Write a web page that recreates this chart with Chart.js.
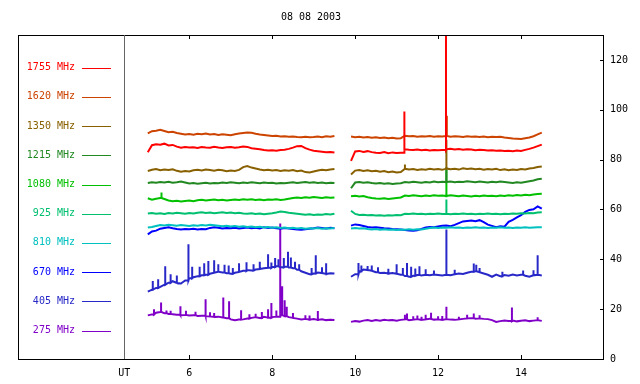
<!DOCTYPE html>
<html>
<head>
<meta charset="utf-8">
<script src="https://cdn.jsdelivr.net/npm/chart.js@4/dist/chart.umd.min.js"></script>
<style>
body { margin: 0; background: #fff; }
</style>
</head>
<body>
<canvas id="spectra" width="640" height="384"></canvas>
<script>

var title = "08 08 2003";
var freqs = ["1755 MHz", "1620 MHz", "1350 MHz", "1215 MHz", "1080 MHz", "925 MHz", "810 MHz", "670 MHz", "405 MHz", "275 MHz"];
var colors = ["#ff0000", "#cc4400", "#886000", "#228822", "#00c000", "#00c070", "#00c0c0", "#0000ff", "#2828c8", "#8000c8"];
var xTicks = [6, 8, 10, 12, 14];
var yTicks = [0, 20, 40, 60, 80, 100, 120];
var utMark = 4.43;

// UT hours, two recording blocks
var hoursA = [5.0,5.1,5.2,5.3,5.4,5.5,5.6,5.7,5.8,5.9,6.0,6.1,6.2,6.3,6.4,6.5,6.6,6.7,6.8,6.9,7.0,7.1,7.2,7.3,7.4,7.5,7.6,7.7,7.8,7.9,8.0,8.1,8.2,8.3,8.4,8.5,8.6,8.7,8.8,8.9,9.0,9.1,9.2,9.3,9.4,9.5];
var hoursB = [9.9,10.0,10.1,10.2,10.3,10.4,10.5,10.6,10.7,10.8,10.9,11.0,11.1,11.2,11.3,11.4,11.5,11.6,11.7,11.8,11.9,12.0,12.1,12.2,12.3,12.4,12.5,12.6,12.7,12.8,12.9,13.0,13.1,13.2,13.3,13.4,13.5,13.6,13.7,13.8,13.9,14.0,14.1,14.2,14.3,14.4,14.5];

var f1755a = [83.0,85.8,86.2,86.0,86.4,85.7,85.9,85.2,84.8,85.1,84.9,85.0,84.7,85.1,84.9,84.8,85.2,84.9,84.7,85.0,85.1,84.8,85.0,85.3,85.1,84.6,84.4,84.2,83.9,83.7,83.8,83.6,83.9,84.0,84.3,84.8,85.4,85.5,84.6,84.0,83.6,83.4,83.2,83.0,83.1,82.9];
var f1755b = [79.5,83.3,83.5,83.1,83.4,83.0,82.8,82.7,83.0,82.6,82.9,82.7,82.8,84.2,84.0,83.9,84.1,83.8,84.0,83.7,83.9,83.8,83.9,84.2,84.4,84.1,84.3,84.0,84.2,84.1,83.8,84.0,83.9,83.7,83.8,83.6,83.7,83.5,83.6,83.4,83.7,83.5,83.9,84.3,84.8,85.4,86.0];
var f1755s = [[11.18, 99.3], [12.19, 135]];

var f1620a = [90.5,91.4,91.6,92.0,91.5,91.0,91.2,90.7,90.4,90.1,90.3,90.0,90.4,90.2,90.5,90.1,90.3,89.9,90.2,90.0,89.8,90.2,90.5,90.7,90.9,90.8,90.4,90.1,89.9,89.7,89.5,89.6,89.3,89.4,89.2,89.3,89.1,89.0,89.2,89.0,89.1,89.3,89.0,89.4,89.2,89.5];
var f1620b = [89.3,89.0,89.2,88.9,89.1,88.8,89.0,88.7,88.9,88.6,88.8,88.5,88.6,89.6,89.4,89.5,89.2,89.4,89.3,89.5,89.2,89.4,89.3,89.5,89.2,89.4,89.3,89.1,89.4,89.2,89.3,89.1,89.3,89.0,89.2,89.1,89.2,88.9,88.7,88.5,88.4,88.3,88.6,88.9,89.4,90.1,90.8];
var f1620s = [[12.21, 97.6]];

var f1350a = [75.4,75.9,76.2,75.7,76.0,75.8,76.1,75.5,75.1,75.4,75.2,75.7,75.9,75.6,76.0,75.8,75.5,75.9,75.7,75.3,75.6,75.4,75.9,77.0,77.4,76.8,76.4,76.0,75.7,75.9,75.6,75.8,75.4,75.7,75.5,75.8,75.3,75.6,75.0,74.8,75.2,75.6,75.9,75.7,76.0,76.2];
var f1350b = [74.0,75.6,75.8,75.4,75.7,75.3,75.5,75.1,75.4,74.9,75.2,74.8,75.0,76.3,76.0,76.2,75.8,76.1,75.9,76.3,76.0,76.2,75.9,76.4,76.1,76.3,76.0,76.5,76.2,76.4,76.1,76.3,75.9,76.2,76.0,76.3,75.8,76.1,75.7,76.0,75.8,76.2,76.0,76.4,76.6,77.0,77.2];
var f1350s = [[11.2, 78], [12.2, 88]];

var f1215a = [70.6,70.9,70.7,71.0,70.8,71.1,70.7,70.9,71.2,70.8,70.4,70.6,70.3,70.5,70.7,70.4,70.6,70.5,70.8,70.6,70.9,70.7,70.5,70.8,70.6,70.9,70.7,70.5,70.8,70.6,70.7,70.4,70.6,70.5,70.7,70.9,70.6,70.8,71.0,70.7,70.9,70.6,70.8,70.5,70.7,70.6];
var f1215b = [68.5,70.8,71.0,70.7,70.9,70.6,70.4,70.6,70.3,70.5,70.2,70.4,70.5,71.0,70.8,71.1,70.9,70.7,71.0,70.8,71.2,70.9,71.1,71.0,71.2,70.9,71.1,71.0,71.3,71.1,70.9,71.2,71.0,70.8,71.1,70.9,71.2,71.0,70.8,70.6,70.9,70.7,71.0,71.3,71.6,72.1,72.3];
var f1215s = [[12.2, 77]];

var f1080a = [64.5,63.9,64.3,64.6,64.2,63.6,63.3,63.5,63.2,63.4,63.6,63.3,63.7,63.9,63.6,63.8,64.0,63.7,63.9,63.6,63.8,64.0,63.8,64.1,63.9,64.1,63.8,64.0,63.7,64.0,63.9,64.1,63.8,64.0,64.3,64.6,64.8,64.6,64.9,64.7,65.0,64.8,64.6,64.9,64.7,64.8];
var f1080b = [65.3,65.5,65.2,65.4,64.9,64.6,64.4,64.3,64.5,64.2,64.4,64.6,64.8,65.6,65.4,65.7,65.5,65.3,65.6,65.4,65.7,65.5,65.6,65.4,65.7,65.5,65.3,65.6,65.4,65.2,65.5,65.3,65.6,65.4,65.5,65.3,65.6,65.4,65.7,65.5,65.8,65.6,65.9,65.7,66.0,66.2,66.3];
var f1080s = [[5.33, 66.8], [12.2, 76]];

var f925a = [58.4,58.6,58.3,58.5,58.2,58.6,58.4,58.7,58.5,58.3,58.6,58.4,58.7,58.9,58.6,58.8,58.5,58.7,58.9,58.6,58.8,58.5,58.7,58.4,58.3,58.5,58.2,58.4,58.1,58.3,58.5,58.8,59.2,59.0,58.7,58.5,58.3,58.1,57.9,58.1,57.8,58.0,57.9,58.2,58.0,58.3];
var f925b = [59.5,58.2,57.8,57.9,57.7,57.8,57.6,57.7,57.5,57.7,57.6,57.8,57.7,58.3,58.2,58.4,58.2,58.3,58.1,58.3,58.2,58.4,58.2,58.3,58.1,58.3,58.2,58.4,58.2,58.3,58.1,58.3,58.2,58.4,58.2,58.3,58.1,58.3,58.2,58.4,58.3,58.5,58.4,58.6,58.5,58.8,58.9];
var f925s = [[12.2, 64]];

var f810a = [52.8,53.0,53.4,53.8,53.6,53.9,53.7,53.5,53.8,53.6,53.4,53.7,53.5,53.8,53.6,53.9,53.7,53.5,53.3,53.5,53.2,53.4,53.1,53.3,53.0,53.2,52.9,53.1,52.8,53.0,52.7,52.9,52.6,52.8,52.5,52.7,52.4,52.6,52.3,52.5,52.4,52.6,52.3,52.5,52.4,52.6];
var f810b = [52.4,52.6,52.4,52.5,52.2,52.0,52.2,51.9,52.1,51.9,52.0,51.8,52.0,51.9,52.1,51.9,52.1,52.0,52.3,52.6,52.8,52.6,52.8,52.7,52.9,52.7,52.8,52.6,52.8,52.7,52.9,52.7,52.8,52.6,52.8,52.7,52.9,52.7,52.8,52.6,52.8,52.7,52.9,52.7,52.8,52.9,52.9];
var f810s = [];

var f670a = [50.0,51.2,51.5,52.3,52.6,52.9,52.5,52.2,52.0,52.2,52.1,52.3,52.0,52.2,52.1,52.6,52.9,52.7,52.4,52.6,52.5,52.7,52.4,52.6,52.8,52.5,52.7,52.4,52.9,52.6,52.8,52.5,52.3,52.6,52.4,52.2,52.0,51.9,52.1,52.3,52.5,52.8,52.6,52.4,52.7,52.5];
var f670b = [53.5,54.0,53.8,53.4,53.0,52.8,52.9,52.7,52.5,52.4,52.2,52.1,52.0,51.8,51.6,51.5,51.7,52.2,52.8,53.0,52.9,53.2,53.5,53.6,53.3,53.8,54.5,55.2,55.4,55.6,55.3,55.7,54.9,53.9,53.4,52.9,53.3,53.1,55.0,55.8,56.8,57.7,59.0,59.8,60.1,61.2,60.3];
var f670s = [];

var f405a = [27.0,27.8,28.5,28.9,29.8,30.6,31.2,30.5,30.3,31.5,32.4,32.8,33.2,33.6,33.8,34.2,34.6,35.0,34.7,34.4,34.2,34.6,34.9,35.4,35.7,35.5,35.9,36.1,36.4,36.6,36.9,37.2,36.8,37.0,36.7,36.4,35.8,35.2,34.6,34.0,34.3,34.7,34.5,34.1,34.4,34.3];
var f405b = [33.0,34.0,35.2,35.9,35.7,35.4,34.8,34.5,34.6,34.3,34.5,34.2,33.8,33.3,33.0,33.4,33.7,33.5,33.8,33.6,33.9,33.7,33.5,33.8,33.6,34.0,34.3,34.1,34.6,35.0,35.2,34.8,34.3,33.8,33.0,33.9,33.2,33.7,33.4,33.9,33.5,33.8,33.4,33.0,33.6,33.8,33.5];
var f405s = [[5.12, 31.3], [5.25, 32], [5.42, 37.2], [5.55, 34], [5.7, 33.5], [5.98, 46], [6.07, 37], [6.25, 37], [6.36, 38.4], [6.46, 39.3], [6.6, 39.6], [6.7, 38], [6.85, 37.8], [6.95, 37.5], [7.05, 36.5], [7.2, 38.4], [7.38, 38.8], [7.55, 38], [7.7, 39], [7.9, 42], [7.98, 38.7], [8.07, 40.5], [8.15, 40], [8.28, 40.5], [8.38, 43], [8.45, 40.7], [8.55, 39], [8.65, 38], [8.95, 36.5], [9.05, 41.6], [9.2, 36.8], [9.3, 38.4],
             [10.08, 38.5], [10.15, 37.5], [10.3, 37.3], [10.4, 37.5], [10.55, 36.8], [10.8, 36.2], [11.0, 38], [11.15, 36.5], [11.25, 38.5], [11.35, 37], [11.45, 36.3], [11.55, 37.2], [11.7, 36], [11.9, 35.5], [12.2, 52], [12.4, 35.8], [12.86, 38.3], [12.92, 37.8], [13.0, 36.5], [13.55, 35], [14.05, 35.5], [14.3, 35.6], [14.4, 41.6]];

var f275a = [17.5,17.9,18.6,18.9,18.4,18.1,18.0,17.8,17.6,17.7,17.5,17.6,17.3,17.4,17.2,17.1,16.9,17.0,16.7,16.4,15.9,15.6,15.8,15.9,16.2,16.5,16.8,16.5,16.9,16.6,16.8,17.0,17.6,17.2,16.8,16.5,16.2,15.9,16.1,15.8,16.0,15.7,15.9,15.6,15.7,15.6];
var f275b = [14.9,15.2,15.0,15.4,15.6,15.3,15.6,15.4,15.7,15.5,15.6,15.4,15.7,15.9,15.6,15.8,16.0,15.7,15.9,16.1,15.8,15.9,15.7,16.0,15.8,15.7,15.9,16.1,16.3,16.4,16.2,16.3,16.1,16.0,15.6,14.9,15.2,15.4,15.2,15.4,15.1,15.3,15.5,15.2,15.4,15.6,15.3];
var f275s = [[5.15, 20], [5.32, 22.7], [5.45, 19.5], [5.55, 19.4], [5.78, 21.2], [5.92, 19.4], [6.15, 19], [6.39, 24], [6.5, 18.8], [6.6, 18.5], [6.82, 24.7], [6.96, 23.2], [7.25, 19.6], [7.45, 18], [7.6, 18.2], [7.75, 18.9], [7.9, 20], [7.98, 22.5], [8.1, 19.5], [8.19, 54.4], [8.24, 29.2], [8.3, 23.6], [8.35, 21], [8.5, 18.5], [8.8, 17.6], [8.9, 17.5], [9.1, 19.3],
             [11.2, 17.8], [11.25, 18.3], [11.4, 17.2], [11.5, 17.5], [11.6, 17], [11.7, 17.8], [11.83, 18.6], [12.0, 17.2], [12.1, 17.3], [12.2, 21], [12.5, 17], [12.7, 17.8], [12.86, 18.3], [13.0, 17.6], [13.78, 20.7], [14.4, 16.8]];

var blocksA = [f1755a, f1620a, f1350a, f1215a, f1080a, f925a, f810a, f670a, f405a, f275a];
var blocksB = [f1755b, f1620b, f1350b, f1215b, f1080b, f925b, f810b, f670b, f405b, f275b];
var spikes = [f1755s, f1620s, f1350s, f1215s, f1080s, f925s, f810s, f670s, f405s, f275s];

var gapAt = 9.7;

function byX(p, q) { return p.x - q.x; }

// reading at the last grid time not after t
function levelAt(hours, vals, t) {
    var v = vals[0];
    for (var i = 0; i < hours.length; i++) {
        if (hours[i] <= t) v = vals[i];
    }
    return v;
}

function makePoints(a, b, sp) {
    var first = [], second = [];
    for (var i = 0; i < hoursA.length; i++) first.push({x: hoursA[i], y: a[i]});
    for (var j = 0; j < hoursB.length; j++) second.push({x: hoursB[j], y: b[j]});
    sp.forEach(function (s) {
        var inA = s[0] < gapAt;
        var base = inA ? levelAt(hoursA, a, s[0]) : levelAt(hoursB, b, s[0]);
        var list = inA ? first : second;
        // a spike is a vertical stroke up from the current level and back
        list.push({x: s[0], y: base}, {x: s[0], y: s[1]}, {x: s[0], y: base});
    });
    first.sort(byX);
    second.sort(byX);
    return first.concat([{x: gapAt, y: null}], second);
}

var datasets = [];
for (var k = 0; k < freqs.length; k++) {
    datasets.push({
        label: freqs[k],
        data: makePoints(blocksA[k], blocksB[k], spikes[k]),
        borderColor: colors[k],
        borderWidth: 2,
        pointRadius: 0,
        tension: 0,
        spanGaps: false
    });
}

var monoFont = {family: "'DejaVu Sans Mono', monospace", size: 10};

// frame, inward ticks, UT line, legend, title
var framePlugin = {
    id: 'frame',
    afterDraw: function (chart) {
        var c = chart.ctx, a = chart.chartArea;
        var xs = chart.scales.x, ys = chart.scales.y;
        c.save();
        c.strokeStyle = '#000';
        c.lineWidth = 1;
        c.strokeRect(a.left + 0.5, a.top + 0.5, a.right - a.left - 1, a.bottom - a.top);
        c.beginPath();
        xTicks.forEach(function (v) {
            var px = Math.round(xs.getPixelForValue(v)) + 0.5;
            c.moveTo(px, a.top); c.lineTo(px, a.top + 4);
            c.moveTo(px, a.bottom); c.lineTo(px, a.bottom - 4);
        });
        yTicks.forEach(function (v) {
            var py = Math.round(ys.getPixelForValue(v)) + 0.5;
            c.moveTo(a.right, py); c.lineTo(a.right - 4, py);
        });
        c.stroke();

        var ux = Math.round(xs.getPixelForValue(utMark)) + 0.5;
        c.strokeStyle = '#666';
        c.beginPath();
        c.moveTo(ux, a.top); c.lineTo(ux, a.bottom);
        c.stroke();

        c.font = "10px 'DejaVu Sans Mono', monospace";
        c.textBaseline = 'middle';
        c.textAlign = 'right';
        for (var i = 0; i < freqs.length; i++) {
            var y = a.top + 32.7 + i * 29.2;
            c.fillStyle = colors[i];
            c.fillText(freqs[i], a.left + 57, y);
            c.strokeStyle = colors[i];
            c.beginPath();
            c.moveTo(a.left + 64, Math.round(y) + 0.5);
            c.lineTo(a.left + 93, Math.round(y) + 0.5);
            c.stroke();
        }

        c.fillStyle = '#000';
        c.textAlign = 'center';
        c.fillText(title, (a.left + a.right) / 2, 17);
        c.restore();
    }
};

new Chart(document.getElementById("spectra"), {
    type: 'line',
    data: { datasets: datasets },
    plugins: [framePlugin],
    options: {
        responsive: false,
        animation: false,
        events: [],
        layout: { padding: { left: 18, top: 35, right: 0, bottom: 0 } },
        plugins: {
            legend: { display: false },
            title: { display: false },
            tooltip: { enabled: false }
        },
        scales: {
            x: {
                type: 'linear',
                position: 'bottom',
                min: 1.87,
                max: 16.0,
                grid: { display: false, drawTicks: false },
                border: { display: false },
                afterBuildTicks: function (s) {
                    s.ticks = [utMark].concat(xTicks).map(function (v) { return {value: v}; });
                },
                afterFit: function (s) { s.height = 25; },
                ticks: {
                    color: '#000',
                    font: monoFont,
                    padding: 8,
                    maxRotation: 0,
                    autoSkip: false,
                    callback: function (v) { return v === utMark ? 'UT' : String(v); }
                }
            },
            y: {
                type: 'linear',
                position: 'right',
                min: 0,
                max: 130,
                grid: { display: false, drawTicks: false },
                border: { display: false },
                afterBuildTicks: function (s) {
                    s.ticks = yTicks.map(function (v) { return {value: v}; });
                },
                afterFit: function (s) { s.width = 36; },
                ticks: { color: '#000', font: monoFont, padding: 6 }
            }
        }
    }
});
</script>
</body>
</html>
